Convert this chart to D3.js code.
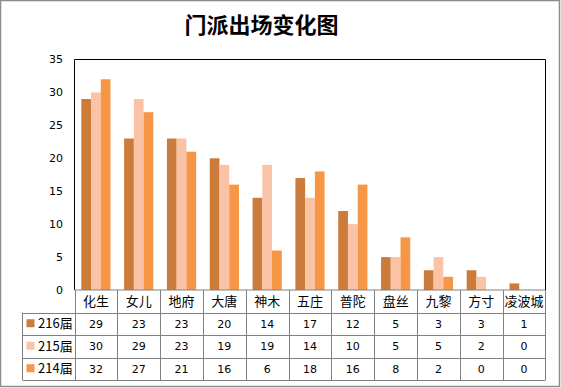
<!DOCTYPE html>
<meta charset="utf-8">
<script src="https://cdn.jsdelivr.net/npm/d3@7"></script>
<style>
  body { margin: 0; background: #fff; }
  svg { display: block; }
  text { font-family: "DejaVu Sans", Tahoma, sans-serif; fill: #000; }
  .cjk { font-family: "Noto Sans CJK SC", sans-serif; }
  .grid { stroke: #808080; stroke-width: 1; fill: none; }
</style>
<body></body>
<script>
var categories = ["化生", "女儿", "地府", "大唐", "神木", "五庄", "普陀", "盘丝", "九黎", "方寸", "凌波城"];
var seriesNames = ["216届", "215届", "214届"];
var s216 = [29, 23, 23, 20, 14, 17, 12, 5, 3, 3, 1];
var s215 = [30, 29, 23, 19, 19, 14, 10, 5, 5, 2, 0];
var s214 = [32, 27, 21, 16, 6, 18, 16, 8, 2, 0, 0];
var yTicks = [0, 5, 10, 15, 20, 25, 30, 35];
var colors = ["#cd7b3b", "#fac3a6", "#f79646"];

var series = [s216, s215, s214];
var W = 561, H = 388;
var plot = {left: 74.5, right: 545.5, top: 59.5, bottom: 290};
var rowH = 22.5, tableLeft = 22.5;

var svg = d3.select("body").append("svg").attr("width", W).attr("height", H);

// outer frame
svg.append("rect").attr("x", 0.5).attr("y", 0.5).attr("width", 559).attr("height", 386)
    .attr("fill", "#fff").attr("stroke", "#8c8c8c").attr("stroke-width", 1.5);

svg.append("text").attr("class", "cjk")
    .attr("x", 261.5).attr("y", 33)
    .attr("text-anchor", "middle")
    .attr("font-size", 22).attr("font-weight", "bold")
    .text("门派出场变化图");

var x0 = d3.scaleBand().domain(categories).range([plot.left, plot.right]).padding(0);
var x1 = d3.scaleBand().domain(seriesNames).range([0, x0.bandwidth()])
    .paddingInner(0).paddingOuter(0.7);
var y = d3.scaleLinear().domain([0, 35]).range([plot.bottom, plot.top]);

// bars
var groups = svg.append("g").selectAll("g")
  .data(categories)
  .enter().append("g")
    .attr("transform", function(d) { return "translate(" + x0(d) + ",0)"; });
groups.selectAll("rect")
  .data(function(d, i) { return series.map(function(s, j) { return {name: seriesNames[j], v: s[i], j: j}; }); })
  .enter().append("rect")
    .attr("x", function(d) { return x1(d.name); })
    .attr("width", x1.bandwidth())
    .attr("y", function(d) { return y(d.v); })
    .attr("height", function(d) { return plot.bottom - y(d.v); })
    .attr("fill", function(d) { return colors[d.j]; });

// plot border (top, left, right)
svg.append("path")
    .attr("d", "M" + plot.left + "," + plot.bottom + "V" + plot.top + "H" + plot.right + "V" + plot.bottom)
    .attr("fill", "none").attr("stroke", "#000").attr("stroke-width", 1);

// y axis labels
svg.append("g").selectAll("text")
  .data(yTicks)
  .enter().append("text")
    .attr("x", 63).attr("y", function(d) { return y(d); })
    .attr("dy", "0.36em")
    .attr("text-anchor", "end")
    .attr("font-size", 11)
    .text(function(d) { return d; });

// data table
var tbl = svg.append("g");
var tableBottom = plot.bottom + rowH * 4;
// horizontal lines
tbl.append("line").attr("class", "grid")
    .attr("x1", plot.left).attr("x2", plot.right).attr("y1", plot.bottom).attr("y2", plot.bottom);
d3.range(1, 5).forEach(function(r) {
  var yy = Math.round(plot.bottom + rowH * r) + 0.5;
  tbl.append("line").attr("class", "grid")
      .attr("x1", tableLeft).attr("x2", plot.right).attr("y1", yy).attr("y2", yy);
});
// vertical lines
categories.forEach(function(c) {
  var xx = Math.round(x0(c)) + 0.5;
  tbl.append("line").attr("class", "grid")
      .attr("x1", xx).attr("x2", xx).attr("y1", plot.bottom).attr("y2", tableBottom);
});
tbl.append("line").attr("class", "grid")
    .attr("x1", plot.right).attr("x2", plot.right).attr("y1", plot.bottom).attr("y2", tableBottom);
tbl.append("line").attr("class", "grid")
    .attr("x1", tableLeft).attr("x2", tableLeft).attr("y1", plot.bottom + rowH).attr("y2", tableBottom);

// header
tbl.selectAll("text.cat")
  .data(categories)
  .enter().append("text")
    .attr("class", "cat cjk")
    .attr("x", function(d) { return x0(d) + x0.bandwidth() / 2; })
    .attr("y", plot.bottom + rowH / 2)
    .attr("dy", "0.36em")
    .attr("text-anchor", "middle")
    .attr("font-size", 13)
    .text(function(d) { return d; });

// rows
series.forEach(function(s, j) {
  var cy = plot.bottom + rowH * (j + 1.5);
  tbl.append("rect")
      .attr("x", 26.5).attr("y", cy - 4.5).attr("width", 8).attr("height", 8)
      .attr("fill", colors[j]);
  tbl.append("text").attr("class", "cjk")
      .attr("x", 38).attr("y", cy).attr("dy", "0.36em")
      .attr("font-size", 13)
      .text(seriesNames[j]);
  tbl.selectAll("text.v" + j)
    .data(s)
    .enter().append("text")
      .attr("class", "v" + j)
      .attr("x", function(d, i) { return x0(categories[i]) + x0.bandwidth() / 2; })
      .attr("y", cy)
      .attr("dy", "0.36em")
      .attr("text-anchor", "middle")
      .attr("font-size", 11)
      .text(function(d) { return d; });
});
</script>
